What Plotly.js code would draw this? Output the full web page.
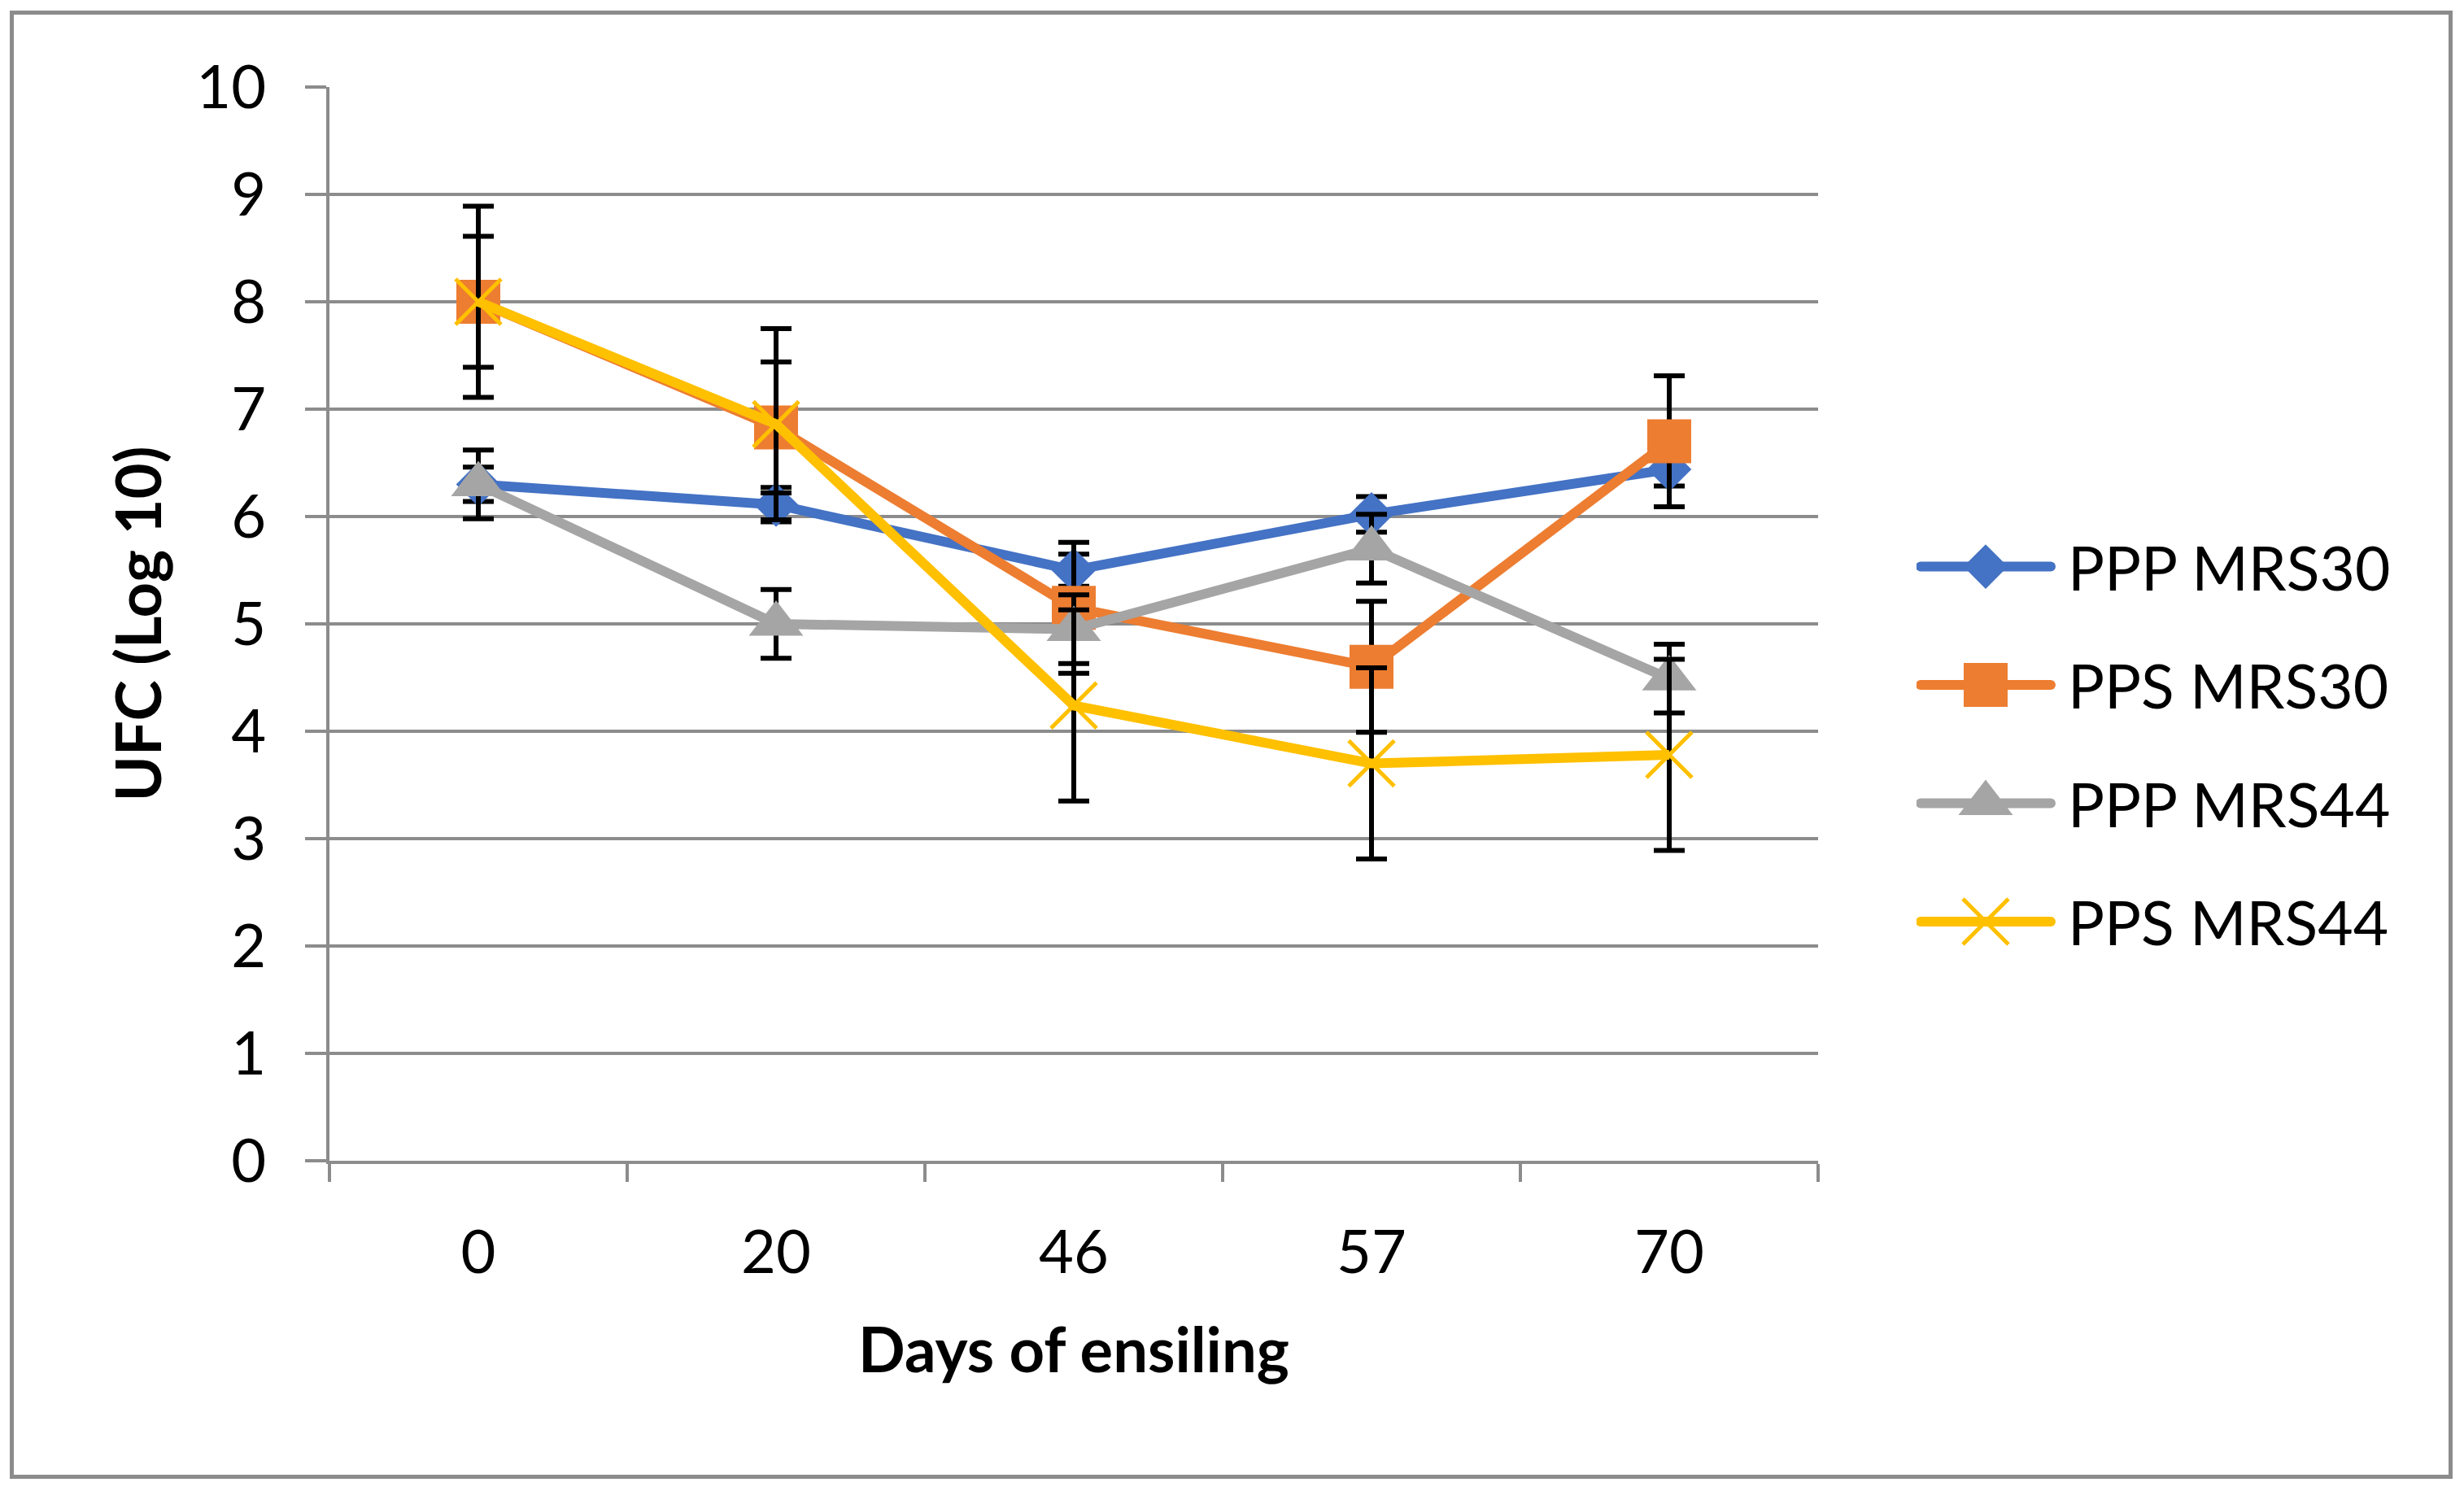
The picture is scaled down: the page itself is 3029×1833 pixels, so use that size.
<!DOCTYPE html>
<html>
<head>
<meta charset="utf-8">
<script src="https://cdn.plot.ly/plotly-3.0.1.min.js"></script>
<style>
  html, body { margin: 0; padding: 0; background: #fff; }
  #wrap { position: relative; width: 3029px; height: 1833px; }
  #chart { position: absolute; left: 0; top: 0; width: 3029px; height: 1833px; }
  #frame { position: absolute; left: 12px; top: 13px; width: 2993px; height: 1795px; border: 5px solid #8c8c8c; pointer-events: none; }
</style>
</head>
<body>
<div id="wrap">
  <div id="chart"></div>
  <div id="frame"></div>
</div>
<script>
// Data
const days = ["0", "20", "46", "57", "70"];
const seriesNames = ["PPP MRS30", "PPS MRS30", "PPP MRS44", "PPS MRS44"];
const pppMrs30 = [6.30, 6.11, 5.50, 6.02, 6.44];
const pppMrs30Err = [0.16, 0.16, 0.15, 0.165, 0.155];
const ppsMrs30 = [8.00, 6.83, 5.15, 4.60, 6.70];
const ppsMrs30Err = [0.61, 0.61, 0.61, 0.61, 0.61];
const pppMrs44 = [6.30, 5.00, 4.95, 5.70, 4.49];
const pppMrs44Err = [0.32, 0.32, 0.32, 0.32, 0.32];
const ppsMrs44 = [8.00, 6.86, 4.24, 3.70, 3.78];
const ppsMrs44Err = [0.89, 0.89, 0.89, 0.89, 0.89];
const yTickVals = [0, 1, 2, 3, 4, 5, 6, 7, 8, 9, 10];

const colors = ["#4472C4", "#ED7D31", "#A5A5A5", "#FFC000"];
const FONT = "Lato, 'Open Sans', sans-serif";
const LINE_W = 12;
const LEG_LINE = 160;

function errBar(arr) {
  return { type: "data", array: arr, visible: true, color: "#000000", thickness: 6, width: 19 };
}

const traces = [
  {
    x: days, y: pppMrs30, name: seriesNames[0], type: "scatter", mode: "lines+markers",
    line: { color: colors[0], width: LINE_W },
    marker: { symbol: "diamond", size: 42, color: colors[0], line: { width: 0 } },
    error_y: errBar(pppMrs30Err), legendgroup: "a"
  },
  {
    x: days, y: ppsMrs30, name: seriesNames[1], type: "scatter", mode: "lines+markers",
    line: { color: colors[1], width: LINE_W },
    marker: { symbol: "square", size: 54, color: colors[1], line: { width: 0 } },
    error_y: errBar(ppsMrs30Err), legendgroup: "b"
  },
  {
    x: days, y: pppMrs44, name: seriesNames[2], type: "scatter", mode: "lines+markers",
    line: { color: colors[2], width: LINE_W },
    marker: { symbol: "triangle-up", size: 58, color: colors[2], line: { width: 0 } },
    error_y: errBar(pppMrs44Err), legendgroup: "c"
  },
  {
    x: days, y: ppsMrs44, name: seriesNames[3], type: "scatter", mode: "lines+markers",
    line: { color: colors[3], width: LINE_W },
    marker: { symbol: "x-thin", size: 56, color: colors[3], line: { color: colors[3], width: 5 } },
    error_y: errBar(ppsMrs44Err), legendgroup: "d"
  }
];

const layout = {
  width: 3029, height: 1833,
  paper_bgcolor: "rgba(0,0,0,0)", plot_bgcolor: "#ffffff",
  margin: { l: 405, r: 794, t: 107, b: 406, pad: 0 },
  font: { family: FONT, color: "#000000", size: 74 },
  showlegend: true,
  legend: {
    x: 1.0661, xanchor: "left", y: 0.388, yanchor: "middle",
    font: { family: FONT, size: 75, color: "#000000" },
    tracegroupgap: 45, bgcolor: "rgba(0,0,0,0)", itemwidth: 176
  },
  xaxis: {
    type: "category", categoryorder: "array", categoryarray: days,
    range: [-0.5, 4.5],
    showline: true, linecolor: "#8c8c8c", linewidth: 4,
    ticks: "outside", tickson: "boundaries", ticklen: 22, tickwidth: 4, tickcolor: "#8c8c8c",
    showgrid: false, zeroline: false,
    tickfont: { family: FONT, size: 74, color: "#000000" },
    ticklabelstandoff: 45,
    title: { text: "<b>Days of ensiling</b>", font: { family: FONT, size: 76, color: "#000000" }, standoff: 55 }
  },
  yaxis: {
    range: [0, 10], tickvals: yTickVals,
    showline: true, linecolor: "#8c8c8c", linewidth: 4,
    ticks: "outside", ticklen: 26, tickwidth: 4, tickcolor: "#8c8c8c",
    showgrid: true, gridcolor: "#8c8c8c", gridwidth: 4,
    zeroline: false,
    tickfont: { family: FONT, size: 74, color: "#000000" },
    ticklabelstandoff: 33,
    title: { text: "<b>UFC (Log 10)</b>", font: { family: FONT, size: 76, color: "#000000" }, standoff: 19 }
  }
};

const gd = document.getElementById("chart");
Plotly.newPlot(gd, traces, layout, { staticPlot: true, displayModeBar: false }).then(function () {
  // Make legend samples look like the chart's series (longer line, full-size marker)
  const plotTraces = gd.querySelectorAll(".scatterlayer .trace");
  const legTraces = gd.querySelectorAll(".legend .traces");
  legTraces.forEach(function (lt, i) {
    const line = lt.querySelector(".legendlines path");
    if (line) {
      line.setAttribute("d", "M5,0h" + LEG_LINE);
      line.style.strokeWidth = LINE_W + "px";
      line.style.strokeLinecap = "round";
    }
    const pt = lt.querySelector("path.scatterpts");
    const src = plotTraces[i] ? plotTraces[i].querySelector(".points path") : null;
    if (pt && src) {
      pt.setAttribute("d", src.getAttribute("d"));
      pt.setAttribute("transform", "translate(" + (5 + LEG_LINE / 2) + ",0)");
      pt.style.strokeWidth = src.style.strokeWidth;
      pt.style.stroke = src.style.stroke;
      pt.style.fill = src.style.fill;
    }
  });
});
</script>
</body>
</html>
